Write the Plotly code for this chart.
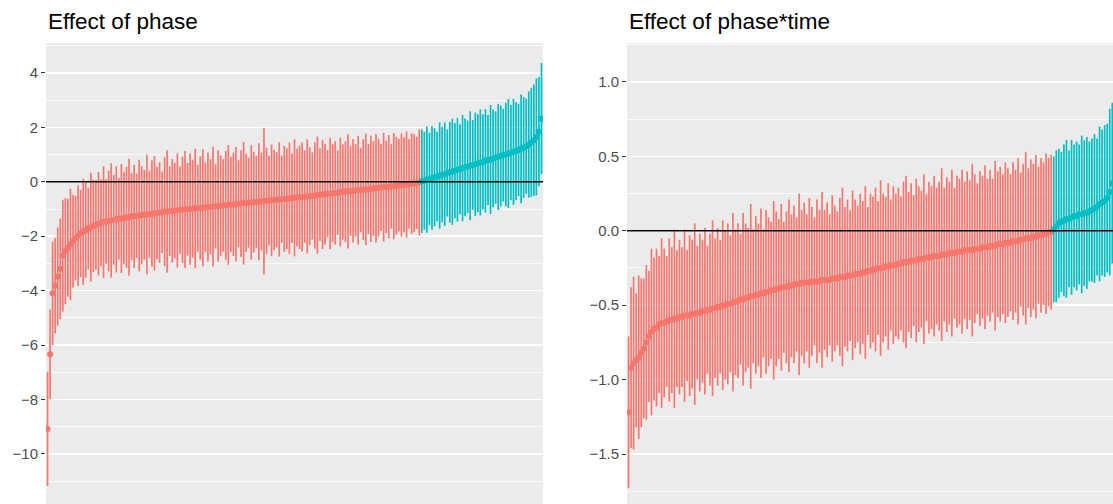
import plotly.graph_objects as go

RED = "#F8766D"
TEAL = "#00BFC4"

# ---- Panel 1: Effect of phase (estimate and half-width of the interval), sorted
L_EST = [
    -9.08, -6.34, -4.10, -3.82, -3.48, -3.20, -2.72, -2.55, -2.42, -2.30,
    -2.18, -2.07, -1.98, -1.90, -1.84, -1.78, -1.72, -1.67, -1.62, -1.58,
    -1.54, -1.51, -1.48, -1.46, -1.44, -1.42, -1.40, -1.38, -1.36, -1.35,
    -1.33, -1.31, -1.30, -1.28, -1.27, -1.25, -1.24, -1.23, -1.21, -1.20,
    -1.19, -1.17, -1.16, -1.15, -1.13, -1.12, -1.10, -1.09, -1.08, -1.07,
    -1.06, -1.05, -1.04, -1.03, -1.02, -1.01, -1.00, -0.99, -0.98, -0.97,
    -0.96, -0.95, -0.94, -0.93, -0.92, -0.91, -0.90, -0.89, -0.88, -0.87,
    -0.86, -0.85, -0.84, -0.83, -0.82, -0.81, -0.80, -0.79, -0.78, -0.77,
    -0.76, -0.75, -0.74, -0.73, -0.72, -0.71, -0.70, -0.69, -0.68, -0.67,
    -0.66, -0.65, -0.64, -0.63, -0.62, -0.61, -0.60, -0.59, -0.58, -0.57,
    -0.56, -0.55, -0.54, -0.53, -0.52, -0.50, -0.49, -0.48, -0.47, -0.46,
    -0.44, -0.43, -0.42, -0.41, -0.40, -0.38, -0.37, -0.36, -0.35, -0.34,
    -0.33, -0.32, -0.31, -0.30, -0.29, -0.28, -0.27, -0.26, -0.25, -0.24,
    -0.22, -0.21, -0.20, -0.19, -0.18, -0.17, -0.16, -0.15, -0.13, -0.12,
    -0.11, -0.10, -0.08, -0.07, -0.05, -0.04, -0.02,
    0.02, 0.04, 0.08, 0.10, 0.14, 0.17, 0.19, 0.23, 0.26, 0.28,
    0.32, 0.35, 0.37, 0.41, 0.44, 0.46, 0.50, 0.53, 0.55, 0.59,
    0.62, 0.64, 0.68, 0.71, 0.73, 0.77, 0.80, 0.82, 0.86, 0.89,
    0.91, 0.95, 0.98, 1.00, 1.04, 1.07, 1.10, 1.13, 1.17, 1.21,
    1.26, 1.31, 1.37, 1.44, 1.53, 1.65, 1.84, 2.32,
]
L_CI = [
    2.10, 1.65, 1.90, 1.75, 1.80, 1.85, 2.05, 1.95, 1.80, 2.05,
    1.70, 1.55, 1.85, 1.60, 1.95, 1.75, 1.50, 2.00, 1.70, 1.65,
    1.90, 1.60, 2.05, 1.55, 1.85, 2.10, 1.65, 1.95, 1.50, 2.00,
    1.70, 1.85, 2.15, 1.60, 1.90, 1.55, 2.05, 1.80, 1.65, 2.20,
    1.60, 1.95, 2.10, 1.70, 1.85, 1.50, 2.00, 2.25, 1.65, 1.90,
    1.75, 2.10, 1.60, 1.95, 2.15, 1.70, 2.05, 1.80, 2.20, 1.60,
    1.90, 2.15, 1.65, 2.00, 1.75, 2.20, 1.55, 2.05, 1.85, 1.70,
    2.00, 2.20, 1.75, 1.90, 2.10, 1.60, 1.95, 2.25, 1.80, 1.65,
    2.10, 1.85, 1.70, 2.15, 1.80, 2.70, 1.95, 1.65, 2.05, 1.85,
    1.75, 2.10, 1.60, 1.95, 1.85, 2.05, 1.65, 2.15, 1.80, 1.90,
    2.00, 1.70, 2.10, 1.80, 1.60, 1.95, 2.15, 1.70, 2.00, 1.85,
    1.60, 2.05, 1.80, 1.90, 1.55, 2.00, 1.75, 1.85, 2.10, 1.65,
    1.90, 1.70, 2.00, 1.55, 1.85, 2.05, 1.65, 1.95, 1.75, 2.00,
    1.80, 1.60, 2.00, 1.70, 1.90, 1.55, 1.95, 1.80, 1.70, 1.90,
    1.75, 1.95, 1.65, 1.85, 1.80, 1.70, 1.95, 1.90, 1.80, 1.95,
    1.70, 1.90, 1.80, 1.65, 1.95, 1.75, 1.90, 1.60, 1.85, 1.95,
    1.75, 1.90, 1.65, 1.95, 1.80, 1.70, 2.00, 1.65, 1.90, 1.80,
    1.95, 1.75, 1.90, 1.65, 2.00, 1.80, 1.70, 1.95, 1.85, 1.70,
    1.90, 2.00, 1.75, 1.95, 1.80, 1.70, 2.00, 1.85, 1.75, 1.95,
    2.00, 2.05, 2.15, 2.00, 2.04,
]

# ---- Panel 2: Effect of phase*time
R_EST = [
    -1.22, -0.92, -0.89, -0.87, -0.85, -0.82, -0.79, -0.75, -0.71, -0.68,
    -0.66, -0.65, -0.63, -0.62, -0.62, -0.61, -0.60, -0.60, -0.59, -0.59,
    -0.58, -0.58, -0.57, -0.57, -0.57, -0.56, -0.56, -0.55, -0.55, -0.54,
    -0.54, -0.53, -0.53, -0.52, -0.52, -0.51, -0.51, -0.50, -0.50, -0.49,
    -0.49, -0.48, -0.48, -0.47, -0.46, -0.46, -0.45, -0.45, -0.44, -0.44,
    -0.43, -0.43, -0.42, -0.42, -0.41, -0.41, -0.40, -0.40, -0.39, -0.39,
    -0.38, -0.38, -0.38, -0.37, -0.37, -0.36, -0.36, -0.36, -0.35, -0.35,
    -0.35, -0.35, -0.34, -0.34, -0.34, -0.34, -0.33, -0.33, -0.33, -0.33,
    -0.32, -0.32, -0.32, -0.31, -0.31, -0.31, -0.30, -0.30, -0.30, -0.29,
    -0.29, -0.29, -0.28, -0.28, -0.27, -0.27, -0.26, -0.26, -0.25, -0.25,
    -0.25, -0.24, -0.24, -0.23, -0.23, -0.23, -0.22, -0.22, -0.21, -0.21,
    -0.21, -0.20, -0.20, -0.20, -0.19, -0.19, -0.19, -0.18, -0.18, -0.18,
    -0.17, -0.17, -0.17, -0.16, -0.16, -0.16, -0.15, -0.15, -0.15, -0.14,
    -0.14, -0.14, -0.13, -0.13, -0.13, -0.13, -0.12, -0.12, -0.12, -0.11,
    -0.11, -0.11, -0.10, -0.10, -0.10, -0.09, -0.09, -0.09, -0.08, -0.08,
    -0.08, -0.07, -0.07, -0.07, -0.06, -0.06, -0.05, -0.05, -0.05, -0.04,
    -0.04, -0.03, -0.03, -0.02, -0.02, -0.01, -0.01,
    0.01, 0.03, 0.05, 0.06, 0.07, 0.08, 0.08, 0.09, 0.10, 0.10,
    0.11, 0.11, 0.12, 0.12, 0.13, 0.14, 0.15, 0.16, 0.18, 0.19,
    0.20, 0.22, 0.26, 0.32, 0.38, 0.46, 0.57, 0.74,
]
R_CI = [
    0.51, 0.54, 0.58, 0.45, 0.55, 0.50, 0.47, 0.52, 0.44, 0.56,
    0.48, 0.53, 0.46, 0.57, 0.50, 0.44, 0.55, 0.49, 0.60, 0.46,
    0.52, 0.47, 0.58, 0.44, 0.54, 0.50, 0.61, 0.45, 0.53, 0.48,
    0.56, 0.43, 0.51, 0.59, 0.47, 0.53, 0.45, 0.57, 0.50, 0.54,
    0.46, 0.60, 0.49, 0.52, 0.44, 0.58, 0.50, 0.47, 0.62, 0.45,
    0.53, 0.48, 0.57, 0.43, 0.55, 0.50, 0.46, 0.60, 0.52, 0.47,
    0.56, 0.44, 0.51, 0.58, 0.48, 0.53, 0.45, 0.61, 0.49, 0.54,
    0.46, 0.57, 0.50, 0.43, 0.55, 0.48, 0.59, 0.47, 0.52, 0.44,
    0.56, 0.49, 0.45, 0.53, 0.60, 0.47, 0.51, 0.44, 0.57, 0.50,
    0.46, 0.54, 0.48, 0.58, 0.43, 0.52, 0.49, 0.55, 0.45, 0.59,
    0.50, 0.47, 0.56, 0.44, 0.53, 0.48, 0.51, 0.45, 0.54, 0.58,
    0.47, 0.52, 0.44, 0.55, 0.49, 0.46, 0.57, 0.43, 0.51, 0.48,
    0.54, 0.46, 0.50, 0.58, 0.45, 0.52, 0.48, 0.56, 0.44, 0.51,
    0.49, 0.55, 0.46, 0.53, 0.47, 0.58, 0.50, 0.44, 0.52, 0.48,
    0.55, 0.46, 0.51, 0.45, 0.57, 0.49, 0.52, 0.47, 0.54, 0.50,
    0.46, 0.53, 0.48, 0.56, 0.45, 0.51, 0.58, 0.47, 0.53, 0.49,
    0.55, 0.46, 0.52, 0.48, 0.54, 0.50, 0.52, 0.49, 0.51, 0.50,
    0.47, 0.51, 0.53, 0.46, 0.52, 0.48, 0.50, 0.47, 0.53, 0.49,
    0.51, 0.47, 0.48, 0.50, 0.46, 0.52, 0.49, 0.51, 0.50, 0.56,
    0.54, 0.52, 0.55, 0.53, 0.58,
]

TITLES = ["Effect of phase", "Effect of phase*time"]
L_TICKS = [-10, -8, -6, -4, -2, 0, 2, 4]
R_TICKS = [-1.5, -1.0, -0.5, 0.0, 0.5, 1.0]

W, H = 1113, 504
fig = go.Figure()


def add_panel(est, ci, xa, ya):
    for color, keep in ((RED, lambda v: v < 0), (TEAL, lambda v: v >= 0)):
        idx = [i for i, v in enumerate(est) if keep(v)]
        fig.add_trace(go.Scatter(
            x=idx, y=[est[i] for i in idx], xaxis=xa, yaxis=ya,
            mode="markers",
            marker=dict(color=color, size=6, line=dict(width=0)),
            error_y=dict(type="data", symmetric=True, array=[ci[i] for i in idx],
                         width=0, thickness=1.7, color=color),
            showlegend=False, hoverinfo="skip",
        ))


add_panel(L_EST, L_CI, "x", "y")
add_panel(R_EST, R_CI, "x2", "y2")

px_per_unit = (543 - 46) / (len(L_EST) - 1 + 1.2)
ytop = 1 - 43 / H

axis_font = dict(family="Liberation Sans, Arial, sans-serif", size=15, color="#4D4D4D")
xcommon = dict(showticklabels=False, ticks="", showgrid=False, zeroline=False, showline=False)
ycommon = dict(ticks="outside", ticklen=4, tickwidth=1, tickcolor="#333333",
               showgrid=True, gridcolor="white", gridwidth=1.6, zeroline=False,
               showline=False, tickfont=axis_font)

fig.update_layout(
    width=W, height=H,
    margin=dict(l=0, r=0, t=0, b=0),
    paper_bgcolor="white", plot_bgcolor="#EBEBEB",
    xaxis=dict(domain=[46 / W, 543 / W], range=[-0.6, len(L_EST) - 0.4], **xcommon),
    yaxis=dict(domain=[0, ytop], anchor="x", range=[-11.84, 5.10], tickvals=L_TICKS,
               minor=dict(dtick=1, tick0=0, showgrid=True, gridcolor="white", gridwidth=0.8),
               **ycommon),
    xaxis2=dict(domain=[627 / W, 1.0], anchor="y2",
                range=[-0.6, -0.6 + (W - 627) / px_per_unit], **xcommon),
    yaxis2=dict(domain=[0, ytop], anchor="x2", range=[-1.836, 1.262], tickvals=R_TICKS,
                tickformat=".1f",
                minor=dict(dtick=0.25, tick0=0, showgrid=True, gridcolor="white", gridwidth=0.8),
                **ycommon),
)

for xa, ya in (("x", "y"), ("x2", "y2")):
    fig.add_shape(type="line", xref=f"{xa} domain", yref=ya, x0=0, x1=1, y0=0, y1=0,
                  line=dict(color="black", width=1.5), layer="above")

for title, x0 in zip(TITLES, (46, 627)):
    fig.add_annotation(text=title, xref="paper", yref="paper", x=x0 / W, y=1 - 22 / H,
                       xanchor="left", yanchor="middle", showarrow=False,
                       font=dict(family="Liberation Sans, Arial, sans-serif", size=22.5, color="black"))

fig.write_html("out.html",
               config={"displayModeBar": False, "staticPlot": True},
               post_script="document.body.style.margin='0';document.body.style.overflow='hidden';")
